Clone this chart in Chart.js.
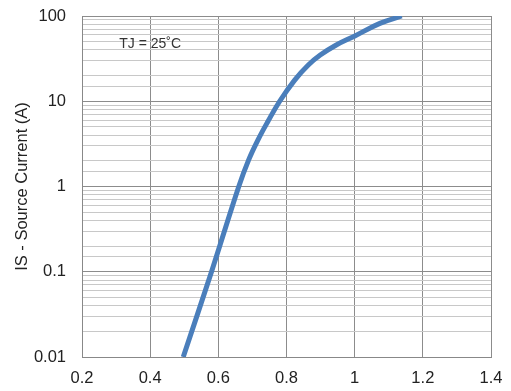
<!DOCTYPE html>
<html>
<head>
<meta charset="utf-8">
<script src="https://cdn.jsdelivr.net/npm/chart.js@4/dist/chart.umd.min.js"></script>
<style>
    html, body { margin: 0; padding: 0; background: #fff; }
    #wrap { width: 511px; height: 391px; }
</style>
</head>
<body>
<div id="wrap"><canvas id="myChart" width="511" height="391"></canvas></div>
<script>
// Forward voltage (V) against source current (A), Tj = 25 C
const vsd = [0.497, 0.580, 0.660, 0.689, 0.716, 0.745, 0.780, 0.824, 0.864, 0.899, 0.946, 0.999, 1.074, 1.138];
const is_a = [0.01, 0.1, 1.0, 2.05, 3.5, 5.75, 10, 17.7, 26.6, 34.8, 45.7, 58, 82, 100];

const x_ticks = [0.2, 0.4, 0.6, 0.8, 1, 1.2, 1.4];
const y_decades = [0.01, 0.1, 1, 10, 100];

const axis_font = { family: "'Liberation Sans', Arial, sans-serif", size: 16.5 };

function isDecade(v) {
    return y_decades.some((d) => Math.abs(v - d) / d < 1e-6);
}

// Small text label placed in data coordinates
const noteLabel = {
    id: "noteLabel",
    afterDatasetsDraw(chart) {
        const ctx = chart.ctx;
        const x = chart.scales.x.getPixelForValue(0.4);
        const y = chart.scales.y.getPixelForValue(47);
        ctx.save();
        ctx.font = "14px 'Liberation Sans Narrow', 'Liberation Sans', Arial, sans-serif";
        ctx.fillStyle = "#333";
        ctx.textAlign = "center";
        ctx.textBaseline = "middle";
        ctx.fillText("TJ = 25˚C", x, y);
        ctx.restore();
    }
};

new Chart("myChart", {
    type: "line",
    data: {
        datasets: [{
            data: vsd.map((v, i) => ({ x: v, y: is_a[i] })),
            borderColor: "#4a7ebb",
            borderWidth: 5,
            pointRadius: 0,
            tension: 0.4,
            fill: false
        }]
    },
    options: {
        responsive: false,
        animation: false,
        layout: { padding: { left: 0, right: 20, top: 16, bottom: 0 } },
        plugins: { legend: { display: false }, tooltip: { enabled: false } },
        scales: {
            x: {
                type: "linear",
                min: 0.2,
                max: 1.4,
                afterBuildTicks: (scale) => { scale.ticks = x_ticks.map((v) => ({ value: v })); },
                afterFit: (scale) => {
                    scale.height = 34;
                    scale.paddingLeft = 0;
                    scale.paddingRight = 0;
                },
                border: { color: "#888", width: 1 },
                grid: { color: "#8c8c8c", lineWidth: 1, drawTicks: false },
                ticks: {
                    padding: 12,
                    color: "#222",
                    font: axis_font,
                    callback: (v) => Number(v.toFixed(1)).toString()
                }
            },
            y: {
                type: "logarithmic",
                min: 0.01,
                max: 100,
                afterFit: (scale) => {
                    scale.width = 82;
                    scale.paddingTop = 0;
                    scale.paddingBottom = 0;
                },
                border: { color: "#888", width: 1 },
                grid: {
                    drawTicks: false,
                    color: (c) => isDecade(c.tick.value) ? "#8c8c8c" : "#c8c8c8",
                    lineWidth: 1
                },
                ticks: {
                    autoSkip: false,
                    padding: 16,
                    color: "#222",
                    font: axis_font,
                    callback: (v) => isDecade(v) ? Number(v.toPrecision(1)).toString() : ""
                },
                title: {
                    display: true,
                    text: "IS - Source Current (A)",
                    color: "#222",
                    font: axis_font,
                    padding: { top: 13, bottom: 0 }
                }
            }
        }
    },
    plugins: [noteLabel]
});
</script>
</body>
</html>
